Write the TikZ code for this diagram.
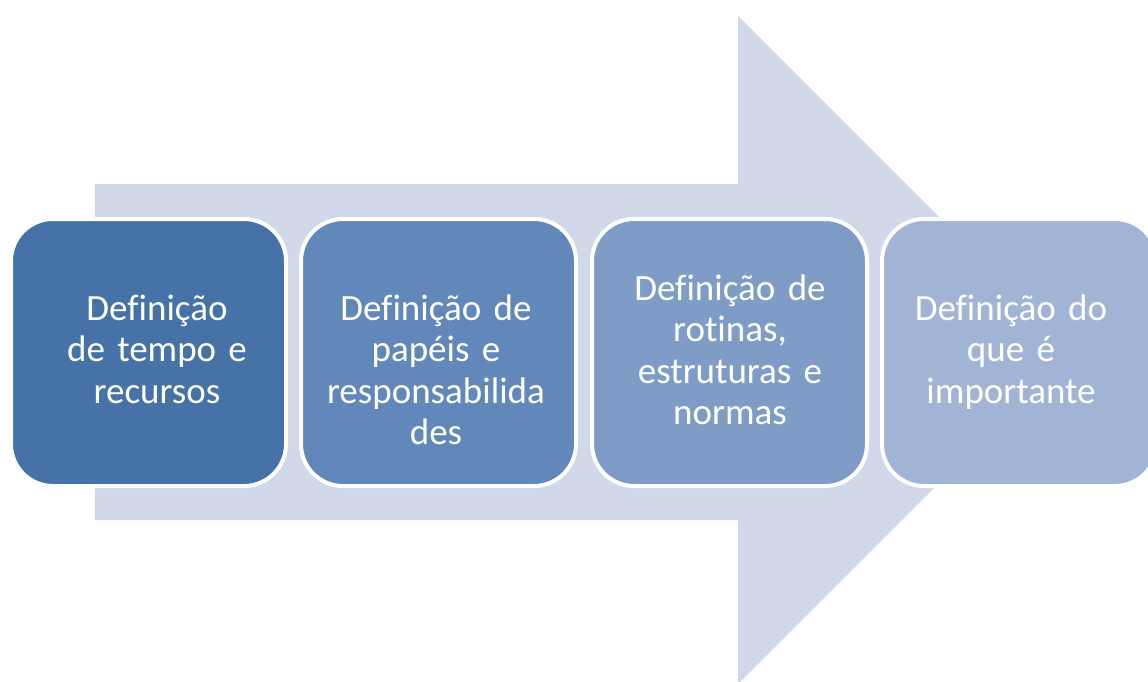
\documentclass[tikz,border=0pt]{standalone}
\usepackage{fontspec}
\setmainfont{Carlito}[Ligatures=NoCommon]
\definecolor{arrowfill}{HTML}{D0D8E9}
\definecolor{ca}{HTML}{4672A8}
\definecolor{cb}{HTML}{6287BB}
\definecolor{cc}{HTML}{7F9CC6}
\definecolor{cd}{HTML}{A1B4D5}
\begin{document}
\begin{tikzpicture}[x=1pt,y=-1pt,
  stepbox/.style={draw=white,line width=4pt,rounded corners=42pt,minimum width=275pt,minimum height=267pt,inner sep=0pt},
  lbl/.style={text=white,font=\fontsize{37}{41.5}\selectfont,align=center,text width=270pt,anchor=base,inner sep=0pt}]
\useasboundingbox (0,0) rectangle (1148,681);
\begin{scope}
\clip (0,0) rectangle (1148,681);
\fill[arrowfill] (95,184) -- (738,184) -- (738,16) -- (1072,350) -- (738,684) -- (738,520) -- (95,520) -- cycle;
\node[stepbox,fill=ca] (b1) at (148.5,352.5) {};
\node[stepbox,fill=cb] (b2) at (438.5,352.5) {};
\node[stepbox,fill=cc] (b3) at (729.5,352.5) {};
\node[stepbox,fill=cd] (b4) at (1019.5,352.5) {};
\node[lbl] (t1) at (157,320) {Definição\\de tempo e\\recursos};
\node[lbl] (t2) at (436,320) {Definição de\\papéis e\\responsabilida\\des};
\node[lbl] (t3) at (730,300) {Definição de\\rotinas,\\estruturas e\\normas};
\node[lbl] (t4) at (1011,320) {Definição do\\que é\\importante};
\end{scope}
\end{tikzpicture}
\end{document}
